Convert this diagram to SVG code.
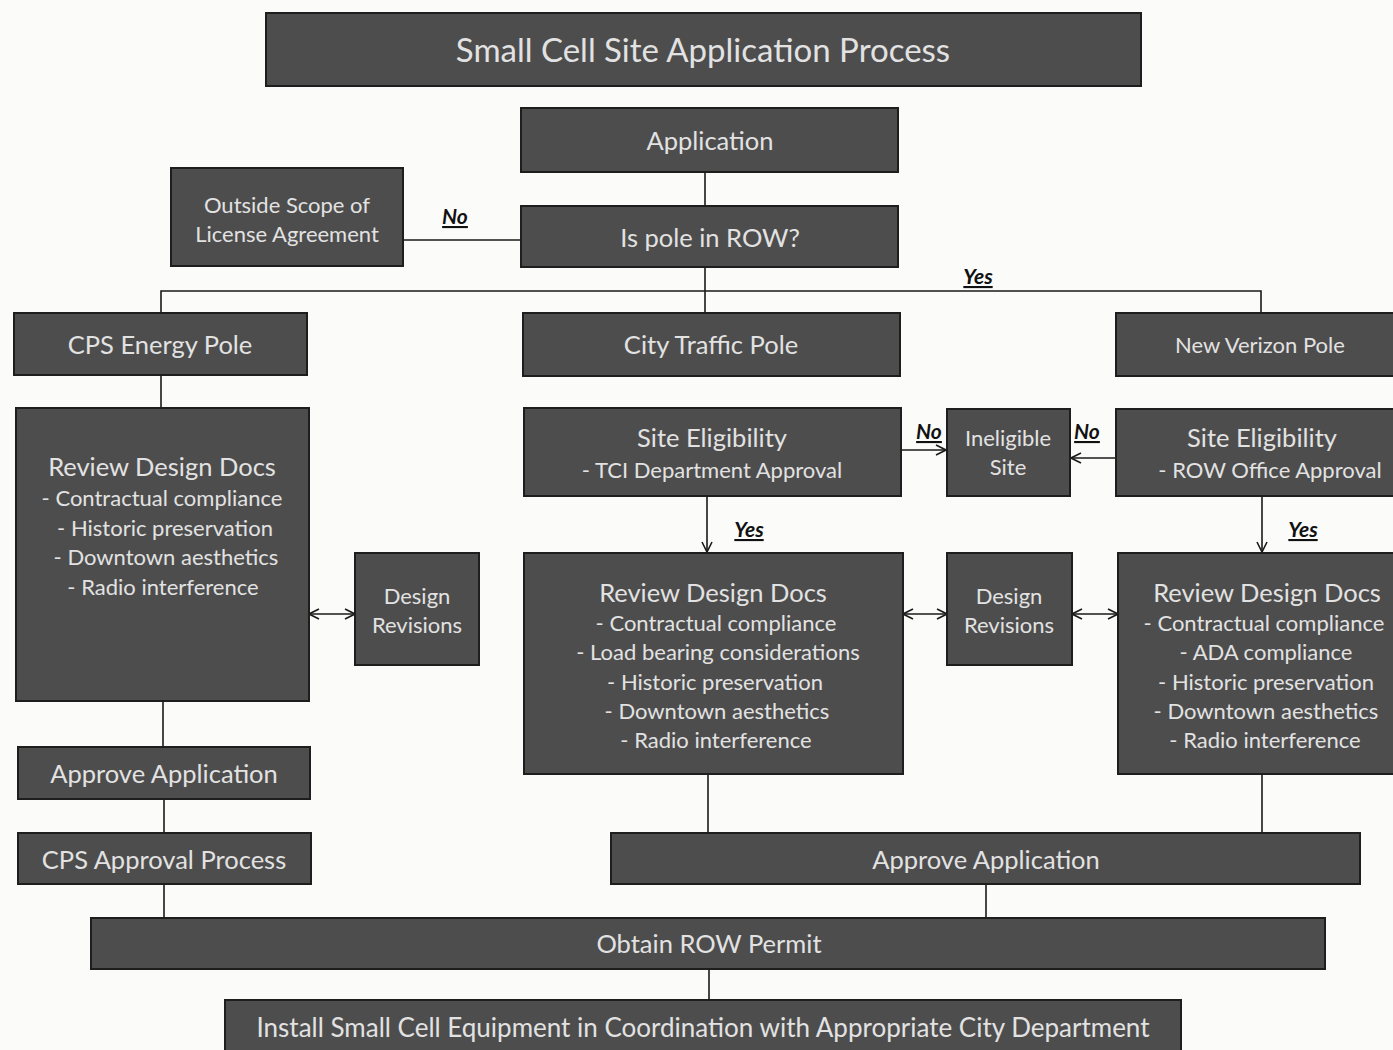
<svg xmlns="http://www.w3.org/2000/svg" width="1393" height="1050" viewBox="0 0 1393 1050">
<style>
.b{fill:#4d4d4d;stroke:#1e1e1e;stroke-width:2}
.t{font-family:Lato,"Liberation Sans",sans-serif;fill:#e2e2e2;text-anchor:middle;dominant-baseline:central}
.l{font-size:25.5px}
.m{font-size:22px}
.c{stroke:#1a1a1a;stroke-width:1.6;fill:none}
.lab{font-family:Lato,"Liberation Sans",sans-serif;font-weight:bold;font-style:italic;font-size:21px;fill:#111;text-anchor:middle;text-decoration:underline}
</style>
<defs>
<marker id="ah" viewBox="0 0 12 12" refX="11" refY="6" markerWidth="12" markerHeight="12" markerUnits="userSpaceOnUse" orient="auto-start-reverse">
<polyline points="1,1 11,6 1,11" fill="none" stroke="#1a1a1a" stroke-width="1.6"/>
</marker>
</defs>
<rect width="1393" height="1050" fill="#fbfbf9"/>
<g id="connectors">
<line class="c" x1="705" y1="172" x2="705" y2="206"/>
<line class="c" x1="403" y1="240" x2="521" y2="240"/>
<text class="lab" x="455" y="224">No</text>
<polyline class="c" points="705,267 705,291"/>
<polyline class="c" points="161,313 161,291 1261,291 1261,313"/>
<line class="c" x1="705" y1="291" x2="705" y2="313"/>
<text class="lab" x="978" y="284">Yes</text>
<line class="c" x1="161" y1="375" x2="161" y2="408"/>
<line class="c" x1="309" y1="614" x2="355" y2="614" marker-start="url(#ah)" marker-end="url(#ah)"/>
<line class="c" x1="163" y1="701" x2="163" y2="747"/>
<line class="c" x1="164" y1="799" x2="164" y2="833"/>
<line class="c" x1="164" y1="884" x2="164" y2="918"/>
<line class="c" x1="709" y1="969" x2="709" y2="1000"/>
<line class="c" x1="901" y1="450" x2="946" y2="450" marker-end="url(#ah)"/>
<text class="lab" x="929" y="439">No</text>
<line class="c" x1="1116" y1="458" x2="1071" y2="458" marker-end="url(#ah)"/>
<text class="lab" x="1087" y="439">No</text>
<line class="c" x1="707" y1="496" x2="707" y2="552" marker-end="url(#ah)"/>
<text class="lab" x="749" y="537">Yes</text>
<line class="c" x1="1262" y1="496" x2="1262" y2="552" marker-end="url(#ah)"/>
<text class="lab" x="1303" y="537">Yes</text>
<line class="c" x1="903" y1="614" x2="947" y2="614" marker-start="url(#ah)" marker-end="url(#ah)"/>
<line class="c" x1="1072" y1="614" x2="1118" y2="614" marker-start="url(#ah)" marker-end="url(#ah)"/>
<line class="c" x1="708" y1="774" x2="708" y2="833"/>
<line class="c" x1="1262" y1="774" x2="1262" y2="833"/>
<line class="c" x1="986" y1="884" x2="986" y2="918"/>
</g>
<g id="title"><rect class="b" x="266" y="13" width="875" height="73"/><text class="t" x="703" y="49" font-size="33">Small Cell Site Application Process</text></g>
<g id="application"><rect class="b" x="521" y="108" width="377" height="64"/><text class="t l" x="710" y="140">Application</text></g>
<g id="is-pole"><rect class="b" x="521" y="206" width="377" height="61"/><text class="t l" x="710" y="237">Is pole in ROW?</text></g>
<g id="outside-scope"><rect class="b" x="171" y="168" width="232" height="98"/><text class="t m" x="287" y="204">Outside Scope of</text><text class="t m" x="287" y="233">License Agreement</text></g>
<g id="cps-pole"><rect class="b" x="14" y="313" width="293" height="62"/><text class="t l" x="160" y="344">CPS Energy Pole</text></g>
<g id="city-pole"><rect class="b" x="523" y="313" width="377" height="63"/><text class="t l" x="711" y="344">City Traffic Pole</text></g>
<g id="verizon-pole"><rect class="b" x="1116" y="313" width="280" height="63"/><text class="t m" x="1260" y="344">New Verizon Pole</text></g>
<g id="review-left"><rect class="b" x="16" y="408" width="293" height="293"/>
<text class="t l" x="162" y="466">Review Design Docs</text>
<text class="t m" x="162" y="497">- Contractual compliance</text>
<text class="t m" x="165" y="527">- Historic preservation</text>
<text class="t m" x="166" y="556">- Downtown aesthetics</text>
<text class="t m" x="163" y="586">- Radio interference</text></g>
<g id="revisions-left"><rect class="b" x="355" y="553" width="124" height="112"/><text class="t m" x="417" y="595">Design</text><text class="t m" x="417" y="624">Revisions</text></g>
<g id="approve-left"><rect class="b" x="18" y="747" width="292" height="52"/><text class="t l" x="164" y="773">Approve Application</text></g>
<g id="cps-approval"><rect class="b" x="18" y="833" width="293" height="51"/><text class="t l" x="164" y="859">CPS Approval Process</text></g>
<g id="site-elig-mid"><rect class="b" x="524" y="408" width="377" height="88"/><text class="t l" x="712" y="437">Site Eligibility</text><text class="t m" x="712" y="469">- TCI Department Approval</text></g>
<g id="ineligible"><rect class="b" x="947" y="409" width="123" height="87"/><text class="t m" x="1008" y="437">Ineligible</text><text class="t m" x="1008" y="466">Site</text></g>
<g id="site-elig-right"><rect class="b" x="1116" y="409" width="280" height="87"/><text class="t l" x="1262" y="437">Site Eligibility</text><text class="t m" x="1270" y="469">- ROW Office Approval</text></g>
<g id="review-mid"><rect class="b" x="524" y="553" width="379" height="221"/>
<text class="t l" x="713" y="592">Review Design Docs</text>
<text class="t m" x="716" y="622">- Contractual compliance</text>
<text class="t m" x="718" y="651">- Load bearing considerations</text>
<text class="t m" x="715" y="681">- Historic preservation</text>
<text class="t m" x="717" y="710">- Downtown aesthetics</text>
<text class="t m" x="716" y="739">- Radio interference</text></g>
<g id="revisions-mid"><rect class="b" x="947" y="553" width="125" height="112"/><text class="t m" x="1009" y="595">Design</text><text class="t m" x="1009" y="624">Revisions</text></g>
<g id="review-right"><rect class="b" x="1118" y="553" width="278" height="221"/>
<text class="t l" x="1267" y="592">Review Design Docs</text>
<text class="t m" x="1264" y="622">- Contractual compliance</text>
<text class="t m" x="1266" y="651">- ADA compliance</text>
<text class="t m" x="1266" y="681">- Historic preservation</text>
<text class="t m" x="1266" y="710">- Downtown aesthetics</text>
<text class="t m" x="1265" y="739">- Radio interference</text></g>
<g id="approve-big"><rect class="b" x="611" y="833" width="749" height="51"/><text class="t l" x="986" y="859">Approve Application</text></g>
<g id="obtain-row"><rect class="b" x="91" y="918" width="1234" height="51"/><text class="t l" x="709" y="943">Obtain ROW Permit</text></g>
<g id="install"><rect class="b" x="225" y="1000" width="956" height="56"/><text class="t" x="703" y="1027" font-size="26">Install Small Cell Equipment in Coordination with Appropriate City Department</text></g>
</svg>
